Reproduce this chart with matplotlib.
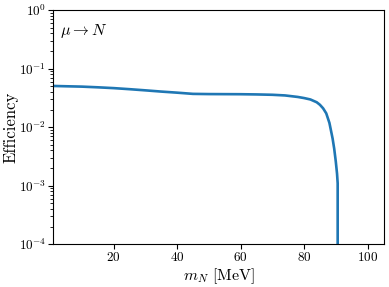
import matplotlib
matplotlib.use('Agg')
import matplotlib.pyplot as plt
import numpy as np

plt.rcParams['font.family'] = 'serif'
plt.rcParams['font.serif'] = ['cmr10', 'DejaVu Serif']
plt.rcParams['mathtext.fontset'] = 'cm'
plt.rcParams['axes.formatter.use_mathtext'] = True
plt.rcParams['axes.unicode_minus'] = False

# heavy neutral lepton mass [MeV] and efficiency
m_N = [1, 5, 10, 15, 20, 25, 30, 35, 40, 45, 50, 55, 60, 65, 70, 74, 78,
       80, 82, 84, 85, 86, 87, 88, 89, 89.5, 90, 90.4, 90.6, 90.7]
eff = [0.0505, 0.0499, 0.0492, 0.0479, 0.0464, 0.0445, 0.0425, 0.0405,
       0.0388, 0.0370, 0.0367, 0.0366, 0.0365, 0.0362, 0.0357, 0.0348,
       0.0328, 0.0314, 0.0297, 0.0266, 0.0241, 0.0210, 0.0172, 0.0118,
       0.0064, 0.0043, 0.0026, 0.0016, 0.0011, 0.0]

fig = plt.figure(figsize=(3.89, 2.87), dpi=100)
ax = fig.add_axes([0.137, 0.149, 0.851, 0.816])

ax.plot(m_N, eff, color='#1f77b4', lw=1.9)
ax.set_yscale('log')
ax.set_ylim(1e-4, 1)
ax.set_xlim(1, 105.3)
ax.set_xticks([20, 40, 60, 80, 100])

ax.set_xlabel(r'$m_N$ [MeV]', fontsize=11.5, labelpad=1.5)
ax.set_ylabel('Efficiency', fontsize=12)
ax.yaxis.set_label_coords(-0.106, 0.5)
ax.tick_params(labelsize=9.5, pad=1.5)
ax.text(0.02, 0.95, r'$\mu \to N$', transform=ax.transAxes,
        fontsize=11.5, va='top', ha='left')

plt.savefig('out.png', dpi=100)
